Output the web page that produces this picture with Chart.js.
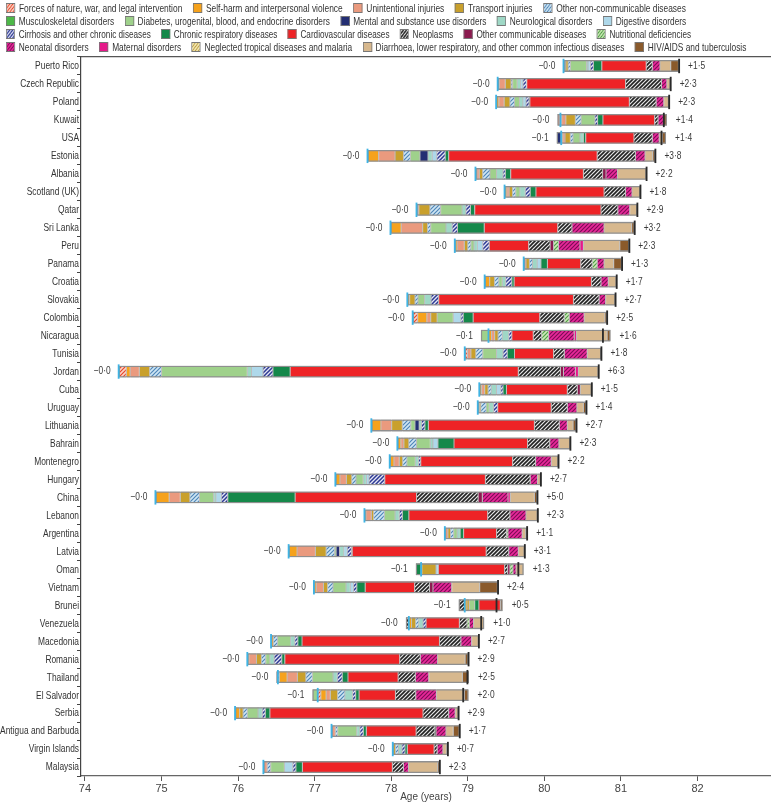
<!DOCTYPE html>
<html>
<head>
<meta charset="utf-8">
<script src="https://cdn.jsdelivr.net/npm/chart.js@4.4.0/dist/chart.umd.min.js"></script>
<style>
  body { margin: 0; background: #fff; }
  #wrap { position: relative; width: 771px; height: 803px; }
  #legend { position: absolute; left: 6px; top: 1px; font: 11px "Liberation Sans", Arial, sans-serif; color: #333; }
  .row { display: flex; width: max-content; height: 13px; align-items: center; white-space: nowrap; transform-origin: left center; }
  .item { flex: none; display: flex; align-items: center; margin-right: 14px; }
  .box { width: 12px; height: 10px; border: 1px solid #777; margin-right: 5px; box-sizing: border-box; }
  canvas { position: absolute; left: 0; top: 0; }
</style>
</head>
<body>
<div id="wrap">
  <canvas id="myChart" width="771" height="803"></canvas>
  <div id="legend"></div>
</div>
<script>
const countries = ['Puerto Rico', 'Czech Republic', 'Poland', 'Kuwait', 'USA', 'Estonia', 'Albania', 'Scotland (UK)', 'Qatar', 'Sri Lanka',
  'Peru', 'Panama', 'Croatia', 'Slovakia', 'Colombia', 'Nicaragua', 'Tunisia', 'Jordan', 'Cuba', 'Uruguay',
  'Lithuania', 'Bahrain', 'Montenegro', 'Hungary', 'China', 'Lebanon', 'Argentina', 'Latvia', 'Oman', 'Vietnam',
  'Brunei', 'Venezuela', 'Macedonia', 'Romania', 'Thailand', 'El Salvador', 'Serbia', 'Antigua and Barbuda', 'Virgin Islands', 'Malaysia']

// life expectancy at the start (years)
const starts = [80.25, 79.39, 79.37, 80.21, 80.22, 77.69, 79.10, 79.48, 78.33, 77.99,
  78.83, 79.73, 79.22, 78.21, 78.28, 79.27, 78.96, 74.44, 79.15, 79.13,
  77.74, 78.08, 77.98, 77.27, 74.92, 77.65, 78.70, 76.66, 78.39, 76.99,
  78.96, 78.23, 76.43, 76.12, 76.52, 77.04, 75.96, 77.22, 78.02, 76.33]

// years gained by cause
const forces = [0, 0, 0, 0, 0, 0, 0, 0, 0, 0, 0, 0, 0, 0, .065, 0, .035, .10, 0, 0, 0, 0, 0, 0, 0, 0, 0, 0, 0, 0, 0, 0, 0, 0, .02, .04, 0, 0, 0, 0]
const selfHarm = [.02, .02, .035, .015, .02, .145, .02, .03, .01, .14, .03, 0, .065, .03, .12, .04, 0, .05, .03, .02, .125, .045, .055, .06, .18, .02, 0, .11, .01, .03, .03, .035, .03, .02, .10, .07, .06, 0, 0, 0]
const unintentional = [.01, .08, .07, .055, .03, .215, .03, .03, .02, .28, .095, .03, 0, 0, .05, .04, .045, .12, .04, 0, .14, .04, .07, .085, .145, .07, .04, .24, 0, .095, 0, 0, 0, .10, .135, .055, 0, .05, 0, .05]
const transport = [.03, .075, .075, .125, .07, .11, .045, .045, .145, .065, .045, .045, .065, .07, .085, .045, .065, .135, .045, .02, .14, .065, .045, .07, .125, .03, .035, .14, .185, .055, .03, .055, 0, .065, .11, .095, .045, 0, .035, 0]
const otherNcd = [.03, .02, .06, .075, .035, .09, .095, .04, .14, .04, .04, .04, .055, .04, 0, .055, .09, .155, .04, .07, .11, .10, .055, .055, .125, .14, .04, .11, 0, .07, 0, .04, .055, .055, .085, .095, .055, .03, .04, .045]
const musculoskeletal = [0, 0, 0, 0, 0, 0, 0, 0, 0, 0, 0, 0, 0, 0, 0, 0, 0, 0, 0, 0, 0, 0, 0, 0, 0, 0, 0, 0, 0, 0, 0, 0, 0, 0, 0, 0, 0, 0, 0, 0]
const diabetes = [.21, .06, .065, .18, .09, .125, .085, .055, .28, .20, .04, 0, .045, .085, .21, 0, .18, 1.12, 0, .04, .055, .18, .11, .095, .185, .14, .045, .02, 0, .17, .07, 0, .17, .055, .27, 0, .14, .25, 0, .18]
const mental = [0, 0, 0, 0, 0, .105, 0, 0, 0, 0, 0, 0, 0, 0, 0, 0, 0, 0, 0, 0, .055, 0, 0, 0, 0, 0, 0, .045, 0, 0, 0, 0, 0, 0, 0, 0, 0, 0, 0, 0]
const neuro = [.02, .045, .045, 0, .045, .055, .085, .07, .05, .08, .045, .06, .045, .085, 0, .085, .085, .055, .07, .055, .03, .035, .04, .04, .03, .055, .04, .055, 0, .055, 0, .055, .055, .055, .055, .10, .055, .04, .045, 0]
const digestive = [.03, .03, .04, 0, 0, .06, 0, 0, 0, 0, .07, .05, 0, 0, .10, 0, 0, .15, .055, 0, 0, .065, 0, .035, .07, 0, 0, .045, .03, .04, 0, 0, 0, 0, 0, 0, 0, 0, 0, .11]
const cirrhosis = [.04, .045, .04, .035, 0, .11, .03, .065, .06, .07, .085, 0, .08, .10, .03, .04, .055, .13, .03, .055, .045, 0, .03, .205, .085, .04, 0, .055, 0, .045, 0, .04, .04, .10, .065, .04, .04, .045, .04, .04]
const respiratory = [.11, .005, .01, .07, .03, .045, .07, .075, .055, .35, 0, .085, .03, 0, .13, 0, .095, .225, .045, 0, .045, .21, 0, 0, .88, .085, .045, .01, 0, .11, .055, 0, .055, .04, .075, .045, .06, .04, .03, .085]
const cardiovascular = [.58, 1.29, 1.30, .675, .63, 1.94, .95, .89, 1.65, .96, .515, .435, 1.01, 1.76, .87, .28, .51, 2.98, .795, .70, 1.385, .96, 1.20, 1.315, 1.585, 1.03, .43, 1.75, .865, .645, .28, .435, 1.795, 1.50, .655, .475, 2.0, .65, .35, 1.175]
const neoplasms = [.08, .47, .35, .045, .24, .50, .25, .28, .22, .185, .28, .15, .125, .335, .32, .11, .14, .55, .13, .21, .325, .29, .30, .585, .805, .29, .13, .295, .04, .195, 0, .10, .28, .27, .225, .265, .335, .245, .04, .145]
const otherCommunicable = [0, 0, 0, 0, 0, 0, .045, 0, 0, 0, .045, 0, 0, 0, 0, 0, 0, .04, .04, 0, 0, 0, 0, 0, .055, 0, 0, 0, .03, .045, 0, 0, 0, 0, 0, 0, 0, 0, 0, 0]
const nutritional = [0, 0, 0, 0, 0, 0, 0, 0, 0, 0, .065, .065, 0, 0, .065, .09, 0, 0, 0, 0, 0, 0, 0, 0, 0, 0, .02, 0, .04, 0, 0, .03, 0, 0, 0, 0, 0, .015, 0, 0]
const neonatal = [.10, .07, .10, .07, .09, .125, .15, .085, .155, .42, .28, .09, .095, .085, .195, .335, .30, .155, 0, .125, .105, .12, .205, .095, .335, .21, .185, .125, .04, .245, 0, .055, .14, .225, .175, .27, .085, .13, .075, .065]
const maternal = [0, 0, 0, 0, 0, 0, 0, 0, 0, 0, .045, 0, 0, 0, 0, .03, 0, .04, 0, 0, 0, 0, 0, 0, .03, 0, 0, 0, 0, 0, 0, 0, 0, 0, 0, 0, 0, 0, 0, 0]
const tropical = [0, 0, 0, 0, 0, 0, 0, 0, 0, 0, 0, 0, 0, 0, 0, 0, 0, 0, 0, 0, 0, 0, 0, 0, 0, 0, 0, 0, 0, 0, 0, 0, 0, 0, 0, 0, 0, 0, 0, 0]
const diarrhoea = [.14, .05, .07, 0, .04, .10, .38, .11, .10, .36, .475, .125, .11, .13, .27, .40, .185, .265, .15, .085, .075, .15, .095, .045, .315, .155, .045, .085, .10, .365, 0, .14, .095, .36, .44, .365, .045, .095, .045, .38]
const hivTb = [.11, 0, 0, .045, .05, .035, 0, 0, 0, .04, .125, .11, 0, 0, .03, .045, 0, 0, 0, .04, .045, 0, 0, 0, .04, 0, .02, 0, 0, .24, .03, 0, 0, .045, .085, .055, 0, .085, .02, .03]

// years lost, and the cause (index into causes) that lost them
const lossValues = [0, 0, 0, .04, .06, 0, 0, 0, 0, 0, 0, 0, 0, 0, 0, .10, 0, 0, 0, 0, 0, 0, 0, 0, 0, 0, 0, 0, .07, 0, .08, .04, 0, 0, .02, .07, 0, 0, 0, 0]
const lossCause = [-1, -1, -1, 2, 7, -1, -1, -1, -1, -1, -1, -1, -1, -1, -1, 6, -1, -1, -1, -1, -1, -1, -1, -1, -1, -1, -1, -1, 11, -1, 13, 13, -1, -1, 7, 6, -1, -1, -1, -1]

const causeNames = ['Forces of nature, war, and legal intervention', 'Self-harm and interpersonal violence', 'Unintentional injuries', 'Transport injuries', 'Other non-communicable diseases',
  'Musculoskeletal disorders', 'Diabetes, urogenital, blood, and endocrine disorders', 'Mental and substance use disorders', 'Neurological disorders', 'Digestive disorders',
  'Cirrhosis and other chronic diseases', 'Chronic respiratory diseases', 'Cardiovascular diseases', 'Neoplasms', 'Other communicable diseases', 'Nutritional deficiencies',
  'Neonatal disorders', 'Maternal disorders', 'Neglected tropical diseases and malaria', 'Diarrhoea, lower respiratory, and other common infectious diseases', 'HIV/AIDS and tuberculosis']
const causeValues = [forces, selfHarm, unintentional, transport, otherNcd, musculoskeletal, diabetes, mental, neuro, digestive,
  cirrhosis, respiratory, cardiovascular, neoplasms, otherCommunicable, nutritional, neonatal, maternal, tropical, diarrhoea, hivTb]

// plain colour, or [background, stripe, stripe width] for hatched
const causeColors = [['#fbd3c4', '#e8462b', 1.2], '#f6a21c', '#ea9a7e', '#c9a02c', ['#cfe6f4', '#4f86b8', 1.2],
  '#4db848', '#9fd18b', '#232e73', '#9fd8c6', '#aed8ea',
  ['#e4e6f4', '#2e3a94', 1.5], '#15884a', '#ee2326', ['#e6e6e6', '#222222', 1.6], '#8c1a4f', ['#cde9b8', '#4e9e45', 1.2],
  ['#e9289a', '#7d0d55', 1.2], '#e6198a', ['#f7ecb8', '#b99a3f', 1.2], '#d7b88e', '#8a5a2b']

const legendRows = [[0, 5], [5, 10], [10, 16], [16, 21]]
const legendRowWidths = [680, 680, 685, 740]
const font = '"Liberation Sans", Arial, sans-serif'
const squeeze = 0.8

function hatchTile(bg, fg, lw) {
  const c = document.createElement('canvas')
  c.width = 4; c.height = 4
  const g = c.getContext('2d')
  g.fillStyle = bg; g.fillRect(0, 0, 4, 4)
  g.strokeStyle = fg; g.lineWidth = lw
  g.beginPath()
  g.moveTo(-1, 5); g.lineTo(5, -1)
  g.moveTo(-1, 1); g.lineTo(1, -1)
  g.moveTo(3, 5); g.lineTo(5, 3)
  g.stroke()
  return c
}

const ctx = document.getElementById('myChart')
const c2d = ctx.getContext('2d')
const fills = causeColors.map(col => Array.isArray(col) ? c2d.createPattern(hatchTile(...col), 'repeat') : col)
const legendBg = causeColors.map(col => Array.isArray(col) ? `url(${hatchTile(...col).toDataURL()})` : col)

// legend
const legend = document.getElementById('legend')
legendRows.forEach(([a, b], r) => {
  const row = document.createElement('div')
  row.className = 'row'
  for (let k = a; k < b; k++) {
    const item = document.createElement('div')
    item.className = 'item'
    item.innerHTML = `<span class="box" style="background:${legendBg[k]}"></span>${causeNames[k]}`
    row.appendChild(item)
  }
  legend.appendChild(row)
  row.style.transform = `scaleX(${legendRowWidths[r] / (row.scrollWidth - 14)})`
})

const gains = countries.map((c, i) => causeValues.reduce((s, arr) => s + arr[i], 0))
const fmt = v => v.toFixed(1).replace('.', '·')

const datasets = []
// outline box
datasets.push({
  data: countries.map((c, i) => [starts[i] - lossValues[i], starts[i] + gains[i]]),
  backgroundColor: 'rgba(0,0,0,0)', borderColor: '#8f8f8f', borderWidth: 1.3, borderSkipped: false,
  categoryPercentage: 0.66, order: -1
})
// start line
datasets.push({
  data: starts.map(s => [s - 0.012, s + 0.012]),
  backgroundColor: '#3fb3e3', categoryPercentage: 0.8, order: -3
})
// end line
datasets.push({
  data: countries.map((c, i) => {
    const e = starts[i] + gains[i] - lossValues[i]
    return [e - 0.012, e + 0.012]
  }),
  backgroundColor: '#2a2a2a', categoryPercentage: 0.8, order: -2
})
// losses
datasets.push({
  data: lossValues.map((v, i) => v > 0 ? [starts[i] - v, starts[i]] : null),
  backgroundColor: c => fills[lossCause[c.dataIndex]] || '#fff',
  borderColor: 'rgba(50,50,50,0.7)', borderWidth: 0.5, borderSkipped: false,
  categoryPercentage: 0.66
})
// gains, stacked in cause order from the start value
const run = starts.slice()
causeValues.forEach((arr, k) => {
  datasets.push({
    label: causeNames[k],
    data: arr.map((v, i) => {
      if (!v) return null
      const seg = [run[i], run[i] + v]
      run[i] += v
      return seg
    }),
    backgroundColor: fills[k],
    borderColor: 'rgba(50,50,50,0.7)', borderWidth: 0.5, borderSkipped: false,
    categoryPercentage: 0.66
  })
})

function narrowText(g, text, x, y, align) {
  g.save()
  g.translate(x, y)
  g.scale(squeeze, 1)
  g.textAlign = align
  g.fillText(text, 0, 0)
  g.restore()
}

const textLabels = {
  id: 'textLabels',
  afterDraw(chart) {
    const { ctx, scales: { x, y } } = chart
    ctx.save()
    ctx.font = '10.5px ' + font
    ctx.textBaseline = 'middle'
    countries.forEach((c, i) => {
      const yy = y.getPixelForValue(i)
      ctx.fillStyle = '#3a3a3a'
      narrowText(ctx, '−' + fmt(lossValues[i]), x.getPixelForValue(starts[i] - lossValues[i]) - 8, yy, 'right')
      narrowText(ctx, '+' + fmt(gains[i]), x.getPixelForValue(starts[i] + gains[i]) + 9, yy, 'left')
      ctx.fillStyle = '#333'
      narrowText(ctx, c, 79, yy + 0.5, 'right')
    })
    ctx.restore()
  }
}

new Chart(ctx, {
  type: 'bar',
  data: { labels: countries, datasets },
  plugins: [textLabels],
  options: {
    indexAxis: 'y',
    responsive: false,
    animation: false,
    grouped: false,
    barPercentage: 1,
    layout: { padding: { top: 57, left: 0, right: 0, bottom: 0 } },
    plugins: {
      legend: { display: false },
      tooltip: { enabled: false }
    },
    scales: {
      x: {
        type: 'linear', min: 73.948, max: 82.96, stacked: false,
        ticks: { stepSize: 1, includeBounds: false, color: '#444', font: { family: font, size: 11 }, padding: 1 },
        grid: { drawOnChartArea: false, tickLength: 5, color: '#555' },
        border: { color: '#666', width: 1.3 },
        title: { display: true, text: 'Age (years)', color: '#444', font: { family: font, size: 10 }, padding: 0 },
        afterFit: s => { s.height = 27 }
      },
      xTop: {
        axis: 'x', position: 'top', type: 'linear', min: 0, max: 1,
        ticks: { display: false }, grid: { display: false },
        border: { color: '#555', width: 1.3 },
        afterFit: s => { s.height = 0 }
      },
      y: {
        type: 'category', offset: true,
        ticks: { display: false },
        grid: { offset: true, drawOnChartArea: false, tickLength: 4, color: '#444' },
        border: { color: '#444', width: 1.2 },
        afterFit: s => { s.width = 81 }
      }
    }
  }
})
</script>
</body>
</html>
